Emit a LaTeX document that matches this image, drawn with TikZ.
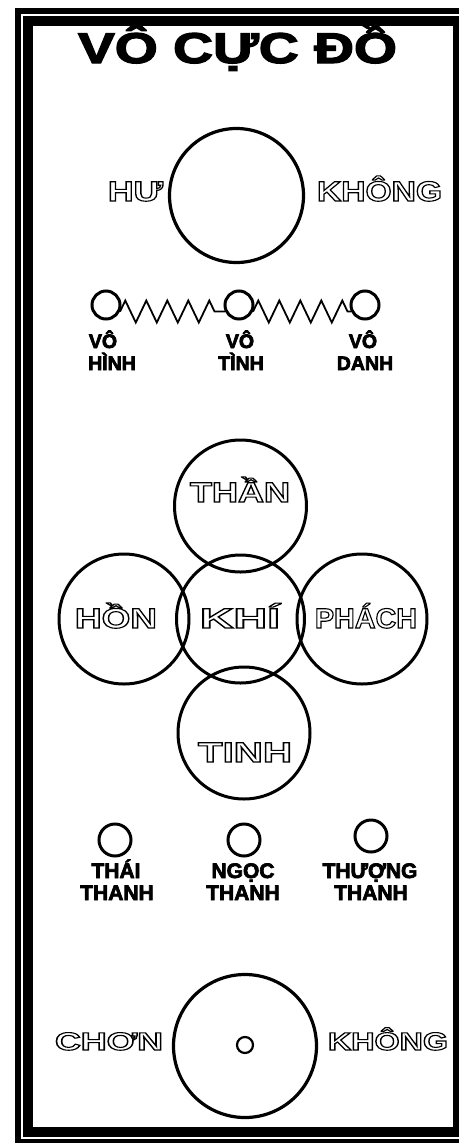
\documentclass[tikz,border=0pt]{standalone}
\usepackage{fontspec}
\setmainfont{Liberation Sans}
\usepackage{graphicx}
\usetikzlibrary{decorations.pathmorphing}
\newcommand\olt[2]{\resizebox{#1pt}{\height}{\special{pdf:literal direct 1 Tr 1.1 w}#2\special{pdf:literal direct 0 Tr}}}
\newcommand\heavy[1]{\special{pdf:literal direct 2 Tr 1.2 w}#1\special{pdf:literal direct 0 Tr}}
\newcommand\hv[1]{\special{pdf:literal direct 2 Tr 0.7 w}#1\special{pdf:literal direct 0 Tr}}
\tikzset{
  ring/.style={circle, draw=black, line width=3pt, inner sep=0pt, minimum size=#1},
  bigring/.style={ring=#1, line width=3.2pt},
  dotring/.style={circle, draw=black, line width=2.2pt, inner sep=0pt, minimum size=#1},
  outl/.style={text=black, inner sep=0pt, anchor=base, font=\fontsize{28}{28}\selectfont\bfseries},
  outlsm/.style={text=black, inner sep=0pt, anchor=base, font=\fontsize{25}{25}\selectfont\bfseries},
  boldlbl/.style={text=black, inner sep=0pt, anchor=base, font=\fontsize{19.5}{20}\selectfont\bfseries},
  boldlbl2/.style={text=black, inner sep=0pt, anchor=base, font=\fontsize{21}{21}\selectfont\bfseries},
  zz/.style={line width=1.8pt, decorate, decoration={zigzag, segment length=21pt, amplitude=11pt}}
}
\begin{document}
\begin{tikzpicture}[x=1pt,y=-1pt]
\useasboundingbox (0,0) rectangle (458,1143);
% frame
\fill[black] (15,8) rectangle (470,1150);
\draw[white, line width=1.6pt] (22,15) rectangle (464,1138);
\fill[white] (33,26) rectangle (453,1127);
% title
\node[inner sep=0pt, anchor=base, font=\fontsize{43}{43}\selectfont\bfseries] (title) at (237.5,63)
  {\resizebox{319pt}{\height}{\heavy{VÔ CỰC ĐỒ}}};
% hu khong
\node[bigring=134pt] (hukhong) at (236.5,195.5) {};
\node[outl] (hu) at (135.5,201) {\olt{55}{HƯ}};
\node[outl] (khong1) at (379.5,201) {\olt{125}{KHÔNG}};
% vo hinh row
\node[ring=28pt] (hinh) at (106,305) {};
\node[ring=28pt] (tinhc) at (239,305) {};
\node[ring=28pt] (danh) at (365,305) {};
\draw[zz] (hinh.-25) -- (tinhc.205);
\draw[zz] (tinhc.-25) -- (danh.205);
\node[boldlbl] (vo1) at (103,348) {\hv{VÔ}};
\node[boldlbl] (hinhl) at (112,370) {\hv{HÌNH}};
\node[boldlbl] (vo2) at (240,348) {\hv{VÔ}};
\node[boldlbl] (tinhl) at (241,370) {\hv{TÌNH}};
\node[boldlbl] (vo3) at (363,348) {\hv{VÔ}};
\node[boldlbl] (danhl) at (365,370) {\hv{DANH}};
% four circles
\node[ring=132pt] (than) at (240.5,506) {};
\node[ring=130pt] (hon) at (124,619) {};
\node[ring=128pt] (khi) at (240.5,619) {};
\node[ring=130pt] (phach) at (362,619) {};
\node[ring=132pt] (tinh) at (244,733) {};
\node[outl] (thanl) at (240,502) {\olt{100}{THẦN}};
\node[outl] (honl) at (116,628) {\olt{82}{HỒN}};
\node[outl] (khil) at (240,628) {\olt{80}{KHÍ}};
\node[outl] (phachl) at (366,628) {\olt{102}{PHÁCH}};
\node[outl] (tinhlab) at (245,762) {\olt{94}{TINH}};
% three thanh
\node[ring=32pt] (thai) at (115,840) {};
\node[ring=32pt] (ngoc) at (244,840) {};
\node[ring=32pt] (thuong) at (371,836) {};
\node[boldlbl2] (thail) at (116,878) {\hv{THÁI}};
\node[boldlbl2] (thanh1) at (117,900) {\hv{THANH}};
\node[boldlbl2] (ngocl) at (243,878) {\hv{NGỌC}};
\node[boldlbl2] (thanh2) at (243,900) {\hv{THANH}};
\node[boldlbl2] (thuongl) at (370,878) {\hv{THƯỢNG}};
\node[boldlbl2] (thanh3) at (371,900) {\hv{THANH}};
% chon khong
\node[bigring=143pt] (chonkhong) at (245,1046) {};
\node[dotring=16pt] (dot) at (245,1045) {};
\node[outlsm] (chon) at (109,1050) {\olt{108}{CHƠN}};
\node[outlsm] (khong2) at (388,1050) {\olt{120}{KHÔNG}};
\end{tikzpicture}
\end{document}
